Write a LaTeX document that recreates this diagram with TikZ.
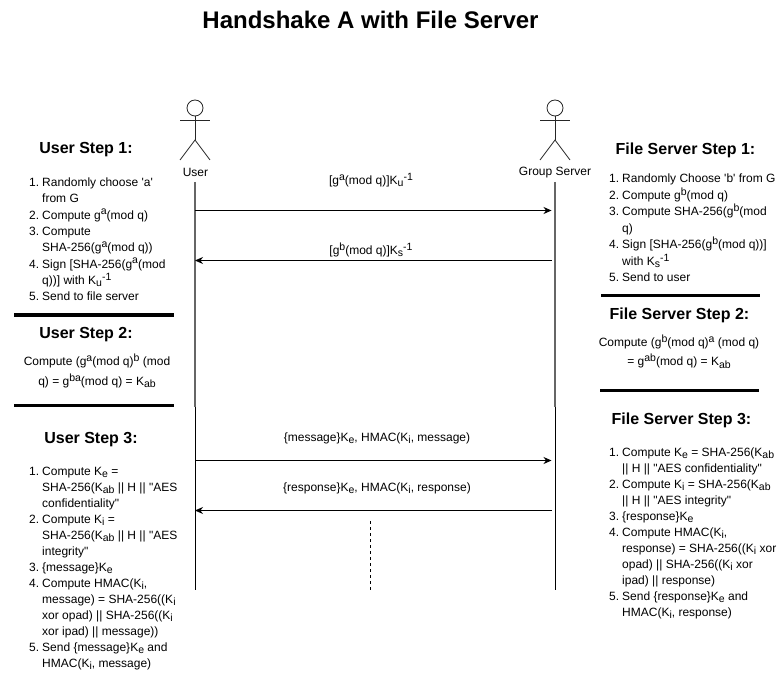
\documentclass[tikz,border=0pt]{standalone}
\usepackage{fontspec}
\usepackage{tikz}
\usetikzlibrary{arrows.meta}
\newfontfamily\diagfont{Liberation Sans}
\newcommand{\supt}[1]{\raisebox{4.2pt}{\fontsize{10.5}{10.5}\selectfont #1}}
\newcommand{\subt}[1]{\raisebox{-2.2pt}{\fontsize{10.5}{10.5}\selectfont #1}}
\newcommand{\stepn}[1]{\makebox[13pt][l]{#1.}}
\newcommand{\stepc}{\hspace*{13pt}}

\begin{document}
\begin{tikzpicture}[x=1pt, y=-1pt, font=\diagfont\fontsize{12}{16}\selectfont,
    actor/.style={line width=0.8pt, draw=black!85},
    lifetop/.style={line width=1.1pt, draw=black!60},
    lifeend/.style={line width=0.8pt, draw=black},
    msg/.style={line width=0.8pt, -{Stealth[length=8pt, width=7pt]}},
    rule/.style={line width=3.4pt},
    heading/.style={font=\diagfont\fontsize{16}{18}\selectfont\bfseries, inner sep=0pt},
    steplist/.style={anchor=north west, align=left, inner sep=0pt},
    stepmid/.style={align=center, inner sep=0pt, font=\diagfont\fontsize{12}{19.5}\selectfont},
    msglabel/.style={inner sep=0pt}]

    \useasboundingbox (0,0) rectangle (781,684);

    % Title
    \node[inner sep=0pt, font=\diagfont\fontsize{24}{26}\selectfont\bfseries] (title) at (370.5,20) {Handshake A with File Server};

    % Actors
    \foreach \name/\xpos in {user/195, server/555} {
        \node[circle, actor, minimum size=16pt, inner sep=0pt] (\name head) at (\xpos,108) {};
        \coordinate (\name hip) at (\xpos,140);
        \coordinate (\name armL) at (\xpos-15,120);
        \coordinate (\name armR) at (\xpos+15,120);
        \coordinate (\name legL) at (\xpos-15,160);
        \coordinate (\name legR) at (\xpos+15,160);
        \draw[actor] (\name head) -- (\name hip);
        \draw[actor] (\name armL) -- (\name armR);
        \draw[actor] (\name legL) -- (\name hip) -- (\name legR);
    }
    \node[inner sep=0pt] (userlabel) at (195.5,172.5) {User};
    \node[inner sep=0pt] (serverlabel) at (555,172.5) {Group Server};

    % Lifelines
    \coordinate (userU) at (195,182);
    \coordinate (userM) at (195,407);
    \coordinate (userD) at (195,590);
    \coordinate (serverU) at (555,182);
    \coordinate (serverM) at (555,407);
    \coordinate (serverD) at (555,590);
    \draw[lifeend] (userM) -- (userD);
    \draw[lifetop] (userU) -- (userM);
    \draw[lifeend] (serverM) -- (serverD);
    \draw[lifetop] (serverU) -- (serverM);

    % Messages
    \coordinate (u1) at (195,210.5);
    \coordinate (s1) at (551.5,210.5);
    \coordinate (u2) at (195,260.5);
    \coordinate (s2) at (551.5,260.5);
    \coordinate (u3) at (195,460.5);
    \coordinate (s3) at (551.5,460.5);
    \coordinate (u4) at (195,510.5);
    \coordinate (s4) at (551.5,510.5);
    \draw[msg] (u1) -- (s1);
    \draw[msg] (s2) -- (u2);
    \draw[msg] (u3) -- (s3);
    \draw[msg] (s4) -- (u4);
    \node[msglabel] (m1) at (371,180) {[g\supt{a}(mod q)]K\subt{u}\supt{-1}};
    \node[msglabel] (m2) at (371,250) {[g\supt{b}(mod q)]K\subt{s}\supt{-1}};
    \node[msglabel] (m3) at (377,438) {\{message\}K\subt{e}, HMAC(K\subt{i}, message)};
    \node[msglabel] (m4) at (377,488) {\{response\}K\subt{e}, HMAC(K\subt{i}, response)};

    % Dashed line below the messages
    \coordinate (dashU) at (370.5,521);
    \coordinate (dashD) at (370.5,590);
    \draw[line width=0.8pt, dashed] (dashU) -- (dashD);

    % User side
    \node[heading] (us1) at (86,150) {User Step 1:};
    \node[steplist, font=\diagfont\fontsize{12}{16.35}\selectfont] (us1list) at (29,177.5) {\stepn{1}Randomly choose 'a'\\ \stepc from G\\ \stepn{2}Compute g\supt{a}(mod q)\\ \stepn{3}Compute\\ \stepc SHA-256(g\supt{a}(mod q))\\ \stepn{4}Sign [SHA-256(g\supt{a}(mod\\ \stepc q))] with K\subt{u}\supt{-1}\\ \stepn{5}Send to file server};
    \coordinate (ur1a) at (14,315);
    \coordinate (ur1b) at (174,315);
    \draw[rule] (ur1a) -- (ur1b);
    \node[heading] (us2) at (86,335) {User Step 2:};
    \node[stepmid] (us2text) at (97,371) {Compute (g\supt{a}(mod q)\supt{b} (mod\\ q) = g\supt{ba}(mod q) = K\subt{ab}};
    \coordinate (ur2a) at (14,405.5);
    \coordinate (ur2b) at (174,405.5);
    \draw[rule] (ur2a) -- (ur2b);
    \node[heading] (us3) at (91,440) {User Step 3:};
    \node[steplist] (us3list) at (29,467) {\stepn{1}Compute K\subt{e} =\\ \stepc SHA-256(K\subt{ab} || H || "AES\\ \stepc confidentiality"\\ \stepn{2}Compute K\subt{i} =\\ \stepc SHA-256(K\subt{ab} || H || "AES\\ \stepc integrity"\\ \stepn{3}\{message\}K\subt{e}\\ \stepn{4}Compute HMAC(K\subt{i},\\ \stepc message) = SHA-256((K\subt{i}\\ \stepc xor opad) || SHA-256((K\subt{i}\\ \stepc xor ipad) || message))\\ \stepn{5}Send \{message\}K\subt{e} and\\ \stepc HMAC(K\subt{i}, message)};

    % File server side
    \node[heading] (fs1) at (685.5,150) {File Server Step 1:};
    \node[steplist, font=\diagfont\fontsize{12}{16.5}\selectfont] (fs1list) at (609,174) {\stepn{1}Randomly Choose 'b' from G\\ \stepn{2}Compute g\supt{b}(mod q)\\ \stepn{3}Compute SHA-256(g\supt{b}(mod\\ \stepc q)\\ \stepn{4}Sign [SHA-256(g\supt{b}(mod q))]\\ \stepc with K\subt{s}\supt{-1}\\ \stepn{5}Send to user};
    \coordinate (fr1a) at (601,295.5);
    \coordinate (fr1b) at (760,295.5);
    \draw[rule] (fr1a) -- (fr1b);
    \node[heading] (fs2) at (679.5,315) {File Server Step 2:};
    \node[stepmid] (fs2text) at (679,351.5) {Compute (g\supt{b}(mod q)\supt{a} (mod q)\\ = g\supt{ab}(mod q) = K\subt{ab}};
    \coordinate (fr2a) at (600,390.5);
    \coordinate (fr2b) at (759,390.5);
    \draw[rule] (fr2a) -- (fr2b);
    \node[heading] (fs3) at (681.5,420) {File Server Step 3:};
    \node[steplist] (fs3list) at (609,447.5) {\stepn{1}Compute K\subt{e} = SHA-256(K\subt{ab}\\ \stepc || H || "AES confidentiality"\\ \stepn{2}Compute K\subt{i} = SHA-256(K\subt{ab}\\ \stepc || H || "AES integrity"\\ \stepn{3}\{response\}K\subt{e}\\ \stepn{4}Compute HMAC(K\subt{i},\\ \stepc response) = SHA-256((K\subt{i} xor\\ \stepc opad) || SHA-256((K\subt{i} xor\\ \stepc ipad) || response)\\ \stepn{5}Send \{response\}K\subt{e} and\\ \stepc HMAC(K\subt{i}, response)};

\end{tikzpicture}
\end{document}
